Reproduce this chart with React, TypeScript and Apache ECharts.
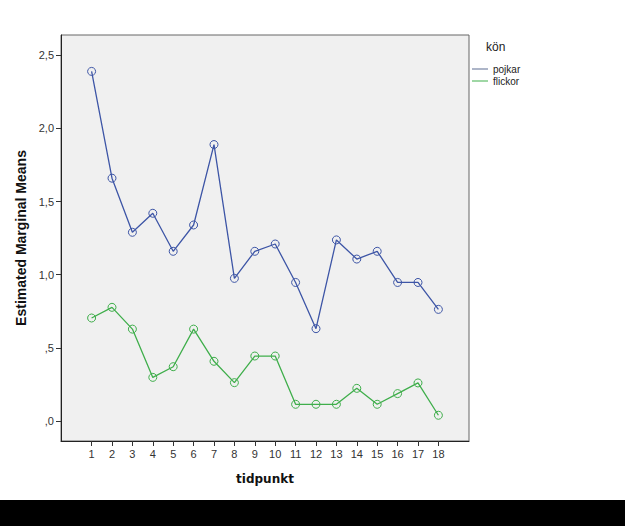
import React, { useEffect, useRef } from "react";
import * as echarts from "echarts";

const tidpunkt = [1, 2, 3, 4, 5, 6, 7, 8, 9, 10, 11, 12, 13, 14, 15, 16, 17, 18];
const pojkar = [2.39, 1.66, 1.29, 1.42, 1.16, 1.34, 1.89, 0.975, 1.16, 1.21, 0.947, 0.631, 1.238, 1.107, 1.16, 0.947, 0.947, 0.763];
const flickor = [0.704, 0.777, 0.628, 0.298, 0.371, 0.628, 0.408, 0.262, 0.444, 0.444, 0.114, 0.114, 0.114, 0.223, 0.114, 0.187, 0.26, 0.039];
const yTicks = [0, 0.5, 1.0, 1.5, 2.0, 2.5];
const seriesNames = ["pojkar", "flickor"];
const legendTitle = "kön";
const xTitle = "tidpunkt";
const yTitle = "Estimated Marginal Means";

const BLUE = "#3D55A6";
const GREEN = "#3FAE4B";

const fmtY = (v: number) => {
  const s = v.toFixed(1).replace(".", ",");
  return s.startsWith("0") ? s.slice(1) : s;
};

export default function App() {
  const ref = useRef<HTMLDivElement>(null);
  useEffect(() => {
    if (!ref.current) return;
    const chart = echarts.init(ref.current, null, { renderer: "svg" });
    const mk = (name: string, vals: number[], color: string) => ({
      name,
      type: "line",
      data: vals.map((v, i) => [tidpunkt[i], v]),
      symbol: "circle",
      symbolSize: 8,
      lineStyle: { color, width: 1.3 },
      itemStyle: { color: "rgba(0,0,0,0)", borderColor: color, borderWidth: 1 },
      emphasis: { disabled: true },
    });
    chart.setOption({
      animation: false,
      backgroundColor: "#ffffff",
      title: {
        text: legendTitle,
        left: 486,
        top: 41,
        padding: 0,
        textStyle: { fontFamily: "Liberation Sans, Arial", fontSize: 12, fontWeight: "normal", color: "#222" },
      },
      legend: {
        orient: "vertical",
        left: 472,
        top: 63,
        padding: 0,
        itemWidth: 16,
        itemHeight: 1,
        itemGap: 0,
        icon: "rect",
        textStyle: { fontFamily: "Liberation Sans, Arial", fontSize: 10, lineHeight: 12, color: "#222" },
        data: [
          { name: seriesNames[0], itemStyle: { color: "#5B6B90", borderWidth: 0, borderColor: "transparent" } },
          { name: seriesNames[1], itemStyle: { color: GREEN, borderWidth: 0, borderColor: "transparent" } },
        ],
        selectedMode: false,
      },
      grid: {
        left: 61,
        top: 35,
        width: 408,
        height: 406,
        show: true,
        backgroundColor: "#F0F0F0",
        borderColor: "#666",
        borderWidth: 1,
      },
      xAxis: {
        type: "value",
        min: -0.5,
        max: 19.5,
        name: xTitle,
        nameLocation: "middle",
        nameGap: 32,
        nameTextStyle: { fontFamily: "DejaVu Sans", fontSize: 12, fontWeight: "bold", color: "#111" },
        splitLine: { show: false },
        axisLine: { show: true, onZero: false, lineStyle: { color: "#222", width: 1 } },
        axisTick: { show: true, length: 5, customValues: tidpunkt, lineStyle: { color: "#333" } },
        axisLabel: {
          customValues: tidpunkt,
          margin: 7,
          fontFamily: "Liberation Sans, Arial",
          fontSize: 11,
          color: "#333",
          formatter: (v: number) => String(v),
        },
      },
      yAxis: {
        type: "value",
        min: -0.137,
        max: 2.639,
        name: yTitle,
        nameLocation: "middle",
        nameGap: 33,
        nameTextStyle: { fontFamily: "Liberation Sans, Arial", fontSize: 14, fontWeight: "bold", color: "#111" },
        splitLine: { show: false },
        axisLine: { show: true, onZero: false, lineStyle: { color: "#222", width: 1 } },
        axisTick: { show: true, length: 5, customValues: yTicks, lineStyle: { color: "#333" } },
        axisLabel: {
          customValues: yTicks,
          margin: 7,
          fontFamily: "Liberation Sans, Arial",
          fontSize: 11,
          color: "#333",
          formatter: (v: number) => fmtY(v),
        },
      },
      graphic: [
        { type: "rect", left: 0, top: 500, shape: { width: 625, height: 26 }, style: { fill: "#000" }, silent: true },
      ],
      series: [mk(seriesNames[0], pojkar, BLUE), mk(seriesNames[1], flickor, GREEN)],
    });
    return () => chart.dispose();
  }, []);
  return <div ref={ref} style={{ position: "absolute", left: 0, top: 0, width: 625, height: 526 }} />;
}
